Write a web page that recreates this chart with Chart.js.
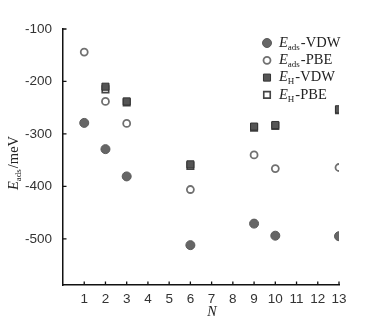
<!DOCTYPE html>
<html>
<head>
<meta charset="utf-8">
<script src="https://cdn.jsdelivr.net/npm/chart.js@4.4.0/dist/chart.umd.min.js"></script>
<style>
  body { margin: 0; background: #fff; }
  #wrap { position: relative; width: 382px; height: 328px; }
</style>
</head>
<body>
<div id="wrap"><canvas id="chart" width="382" height="328"></canvas></div>
<script>
// N values (cluster size) and energies in meV
const nValues = [1, 2, 3, 6, 9, 10, 13]
const eadsVdw = [-279, -329, -381, -512, -471, -494, -495]
const eadsPbe = [-144, -238, -280, -406, -340, -366, -364]
const ehVdw = [null, -210, -238, -358, -286, -283, -253]
const ehPbe = [null, -215, -240, -361, -288, -285, -255]

const xTicks = [1, 2, 3, 4, 5, 6, 7, 8, 9, 10, 11, 12, 13]
const yTicks = [-100, -200, -300, -400, -500]

// legend text pieces: italic main, subscript, rest
const legendText = [
  ['E', 'ads', '-VDW'],
  ['E', 'ads', '-PBE'],
  ['E', 'H', '-VDW'],
  ['E', 'H', '-PBE'],
]
const xTitle = 'N'

const toPoints = (vals) => nValues.map((n, i) => ({ x: n, y: vals[i] })).filter((p) => p.y !== null)

const serif = '"Liberation Serif", "Times New Roman", serif'
const sans = '"Liberation Sans", Arial, sans-serif'

// draws E + subscript + rest, returns end x
const drawSubText = (ctx, x, y, main, sub, rest, size) => {
  ctx.textBaseline = 'middle'
  ctx.font = 'italic ' + size + 'px ' + serif
  ctx.fillText(main, x, y)
  x += ctx.measureText(main).width
  ctx.font = Math.round(size * 0.62) + 'px ' + serif
  ctx.fillText(sub, x, y + size * 0.3)
  x += ctx.measureText(sub).width + 1
  ctx.font = size + 'px ' + serif
  ctx.fillText(rest, x, y)
  return x + ctx.measureText(rest).width
}

const decorPlugin = {
  id: 'decor',
  afterDraw(chart) {
    const ctx = chart.ctx
    const xs = chart.scales.x
    const ys = chart.scales.y
    const area = chart.chartArea
    ctx.save()

    // inward tick marks
    ctx.strokeStyle = '#111'
    ctx.lineWidth = 1.3
    ctx.beginPath()
    xTicks.forEach((v) => {
      const px = xs.getPixelForValue(v)
      ctx.moveTo(px, area.bottom)
      ctx.lineTo(px, area.bottom - 3.5)
    })
    yTicks.forEach((v) => {
      const py = ys.getPixelForValue(v)
      ctx.moveTo(area.left, py)
      ctx.lineTo(area.left + 3.5, py)
    })
    ctx.stroke()

    // x axis title (sits right of centre in the original)
    ctx.fillStyle = '#222'
    ctx.textAlign = 'center'
    ctx.textBaseline = 'middle'
    ctx.font = 'italic 14px ' + serif
    ctx.fillText(xTitle, 212, 312)
    ctx.textAlign = 'left'

    // y axis title
    ctx.save()
    ctx.translate(14, 163)
    ctx.rotate(-Math.PI / 2)
    ctx.font = 'italic 14.5px ' + serif
    const w = ctx.measureText('E').width
    ctx.font = '9px ' + serif
    const w2 = ctx.measureText('ads').width
    ctx.font = '14.5px ' + serif
    const w3 = ctx.measureText('/meV').width
    drawSubText(ctx, -(w + w2 + 1 + w3) / 2, 0, 'E', 'ads', '/meV', 14.5)
    ctx.restore()

    // legend
    chart.data.datasets.forEach((ds, i) => {
      const ly = 43 + i * 17.3
      ctx.fillStyle = ds.pointBackgroundColor
      ctx.strokeStyle = ds.pointBorderColor
      ctx.lineWidth = ds.pointBorderWidth
      Chart.helpers.drawPoint(ctx, {
        pointStyle: ds.pointStyle,
        radius: ds.pointRadius,
        borderWidth: ds.pointBorderWidth,
        rotation: 0,
      }, 267, ly)
      ctx.fillStyle = '#222'
      const t = legendText[i]
      drawSubText(ctx, 279, ly, t[0], t[1], t[2], 14.5)
    })
    ctx.restore()
  },
}

new Chart(document.getElementById('chart'), {
  type: 'scatter',
  data: {
    datasets: [
      {
        label: 'Eads-VDW',
        data: toPoints(eadsVdw),
        pointStyle: 'circle',
        pointRadius: 4.5,
        pointBackgroundColor: '#666',
        pointBorderColor: '#5a5a5a',
        pointBorderWidth: 1,
      },
      {
        label: 'Eads-PBE',
        data: toPoints(eadsPbe),
        pointStyle: 'circle',
        pointRadius: 3.5,
        pointBackgroundColor: '#fff',
        pointBorderColor: '#707070',
        pointBorderWidth: 1.8,
      },
      {
        label: 'EH-VDW',
        data: toPoints(ehVdw),
        pointStyle: 'rect',
        pointRadius: 5,
        pointBackgroundColor: '#555',
        pointBorderColor: '#333',
        pointBorderWidth: 1,
      },
      {
        label: 'EH-PBE',
        data: toPoints(ehPbe),
        pointStyle: 'rect',
        pointRadius: 4.6,
        pointBackgroundColor: '#fff',
        pointBorderColor: '#444',
        pointBorderWidth: 1.6,
      },
    ],
  },
  options: {
    responsive: false,
    animation: false,
    layout: { padding: { top: 29, right: 43, bottom: 8, left: 0 } },
    plugins: {
      legend: { display: false },
      tooltip: { enabled: false },
    },
    scales: {
      x: {
        type: 'linear',
        min: 0,
        max: 13,
        afterBuildTicks: (scale) => {
          scale.ticks = xTicks.map((v) => ({ value: v }))
        },
        afterFit: (scale) => {
          scale.height = 35
        },
        grid: { display: false },
        border: { display: true, color: '#111', width: 1.5 },
        ticks: {
          padding: -2,
          autoSkip: false,
          maxRotation: 0,
          color: '#333',
          font: { family: sans, size: 13.5 },
        },
      },
      y: {
        min: -588,
        max: -100,
        afterBuildTicks: (scale) => {
          scale.ticks = yTicks.map((v) => ({ value: v }))
        },
        afterFit: (scale) => {
          scale.width = 63
        },
        grid: { display: false },
        border: { display: true, color: '#111', width: 1.5 },
        ticks: {
          padding: 3,
          color: '#333',
          font: { family: sans, size: 13.5 },
        },
      },
    },
  },
  plugins: [decorPlugin],
})
</script>
</body>
</html>
